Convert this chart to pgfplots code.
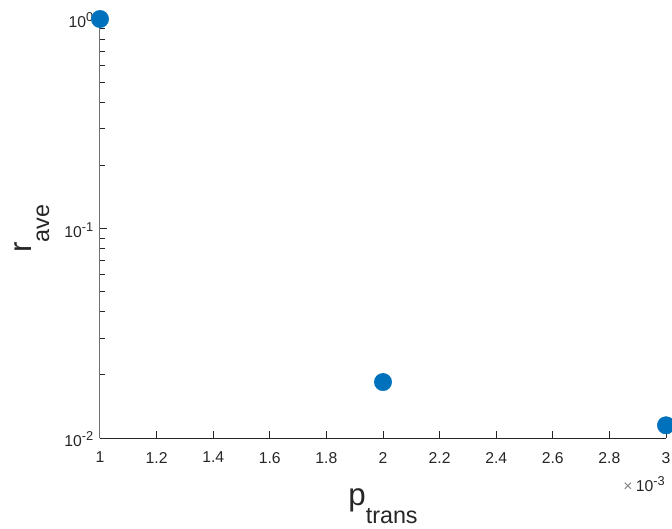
\documentclass[border=0pt]{standalone}
\usepackage{fontspec}
\setmainfont{Liberation Sans}
\usepackage{pgfplots}
\pgfplotsset{compat=1.18}
\definecolor{mblue}{HTML}{0072BD}
\definecolor{axdark}{HTML}{262626}
\definecolor{axgray}{HTML}{707070}
\newcommand{\sps}[1]{\raisebox{4.5pt}{\fontsize{9.6}{10}\selectfont #1}}
\begin{document}
\begin{tikzpicture}
\begin{axis}[
  at={(0,0)}, anchor=south west,
  scale only axis,
  width=424.5pt, height=314.25pt,
  ymode=log,
  xmin=0.001, xmax=0.003, ymin=0.01, ymax=1,
  axis x line*=bottom, axis y line*=left,
  x axis line style={color=axdark, line width=0.75pt},
  y axis line style={color=axgray, line width=0.75pt},
  tick align=inside,
  major tick length=5pt, minor tick length=3.5pt,
  every tick/.style={color=axdark, line width=0.75pt},
  xtick={0.001,0.0012,0.0014,0.0016,0.0018,0.002,0.0022,0.0024,0.0026,0.0028,0.003},
  xticklabels={1,1.2,1.4,1.6,1.8,2,2.2,2.4,2.6,2.8,3},
  scaled x ticks=false,
  ytick={0.01,0.1,1},
  yticklabels={10\sps{-2},10\sps{-1},10\sps{0}},
  xticklabel style={font=\fontsize{11.8}{14}\selectfont, yshift=-7pt, text=axdark},
  yticklabel style={font=\fontsize{11.8}{14}\selectfont, xshift=-1.5pt, yshift=-1pt, text=axdark},
  xlabel={\fontsize{23.5}{28}\selectfont p\raisebox{-14pt}{\fontsize{17.5}{20}\selectfont trans}},
  xlabel style={at={(axis description cs:0.5,-0.16)}, anchor=base, inner sep=0pt, text=axdark},
  ylabel={\fontsize{23.5}{28}\selectfont r\raisebox{-13pt}{\fontsize{17.5}{20}\selectfont ave}},
  ylabel style={at={(axis description cs:-0.1207,0.5)}, anchor=base, rotate=0, inner sep=0pt, text=axdark},
  clip=false,
]
\addplot[only marks, mark=*, mark size=6.5pt, mark options={fill=mblue, draw=mblue}]
  coordinates {(0.001,1) (0.002,0.0185) (0.003,0.0115)};
\node[anchor=north east, inner sep=0pt, text=axdark, font=\fontsize{11.8}{14}\selectfont]
  at (rel axis cs:1,0) [yshift=-29pt, xshift=-0.75pt] {{\color{gray}×}\hspace{2.5pt}10\sps{-3}};
\end{axis}
\pgfresetboundingbox
\path (-75pt,-68.25pt) rectangle (429pt,328.5pt);
\end{tikzpicture}
\end{document}
